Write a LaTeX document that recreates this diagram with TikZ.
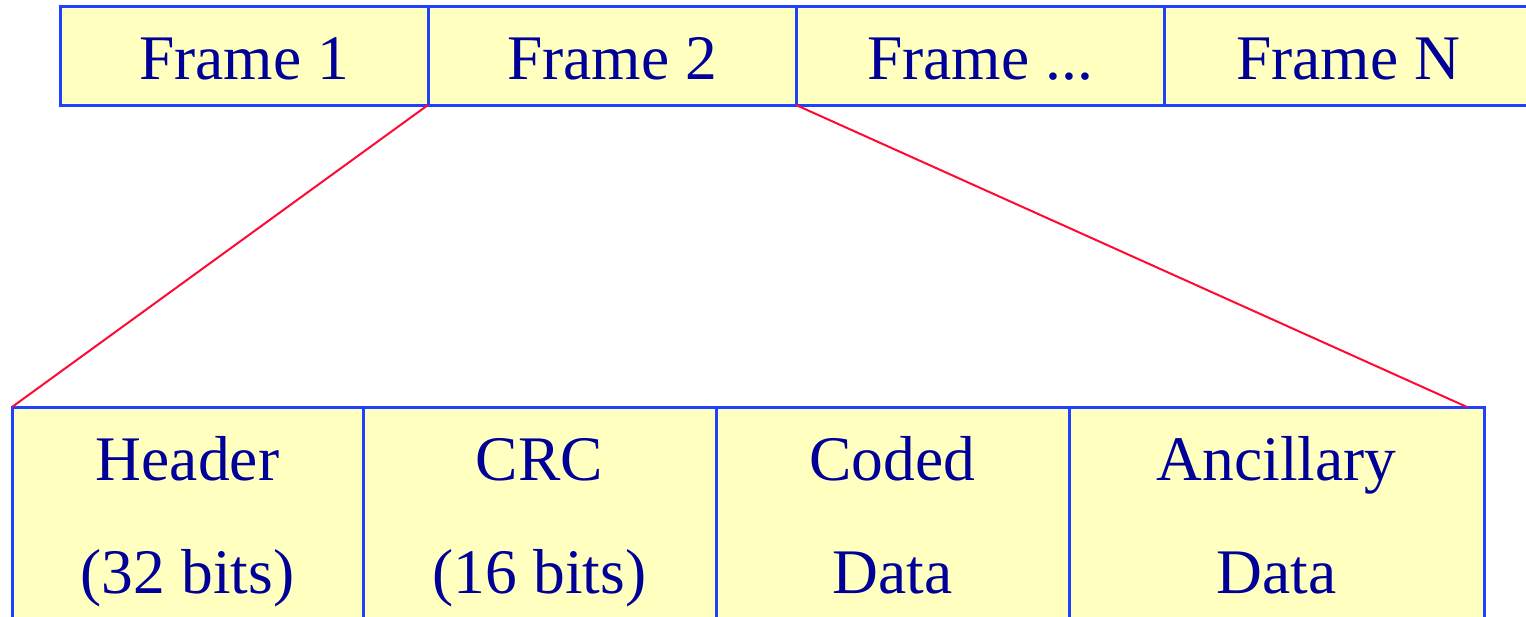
\documentclass[tikz,border=0pt]{standalone}
\usepackage{fontspec}
\setmainfont{Liberation Serif}
\definecolor{cellfill}{HTML}{FFFFC0}
\definecolor{cellline}{HTML}{1F40FF}
\definecolor{labeltext}{HTML}{000099}
\definecolor{zoomline}{HTML}{FF0A32}
\tikzset{
  cell/.style={draw=cellline, fill=cellfill, line width=3pt, rectangle,
    inner sep=0pt, outer sep=0pt, anchor=north west},
  lbl/.style={text=labeltext, inner sep=0pt, anchor=base,
    font=\fontsize{63.5}{70}\selectfont},
  zoom/.style={draw=zoomline, line width=2pt}
}
\begin{document}
\begin{tikzpicture}[x=1pt,y=-1pt]
\useasboundingbox (0,0) rectangle (1526,616);
% stream of frames
\node[cell, minimum width=368pt, minimum height=98.5pt] (f1) at (60,6.5) {};
\node[cell, minimum width=368pt, minimum height=98.5pt] (f2) at (428,6.5) {};
\node[cell, minimum width=368pt, minimum height=98.5pt] (f3) at (796,6.5) {};
\node[cell, minimum width=368pt, minimum height=98.5pt] (f4) at (1164,6.5) {};
\node[lbl] (t1) at (244,79.5) {Frame 1};
\node[lbl] (t2) at (612,79.5) {Frame 2};
\node[lbl] (t3) at (980,79.5) {Frame ...};
\node[lbl] (t4) at (1348,79.5) {Frame N};
% fields of one frame
\node[cell, minimum width=351pt, minimum height=300pt] (h) at (12,407) {};
\node[cell, minimum width=353pt, minimum height=300pt] (c) at (363,407) {};
\node[cell, minimum width=353pt, minimum height=300pt] (d) at (716,407) {};
\node[cell, minimum width=415pt, minimum height=300pt] (a) at (1069,407) {};
\node[lbl] (h1) at (187.5,480) {Header};
\node[lbl] (h2) at (187.5,593) {(32 bits)};
\node[lbl] (c1) at (539.5,480) {CRC};
\node[lbl] (c2) at (539.5,593) {(16 bits)};
\node[lbl] (d1) at (892.5,480) {Coded};
\node[lbl] (d2) at (892.5,593) {Data};
\node[lbl] (a1) at (1276.5,480) {Ancillary};
\node[lbl] (a2) at (1276.5,593) {Data};
% expansion lines
\coordinate (tail) at (1467,407);
\draw[zoom] (f2.south west) -- (h.north west);
\draw[zoom] (f2.south east) -- (tail);
\end{tikzpicture}
\end{document}
